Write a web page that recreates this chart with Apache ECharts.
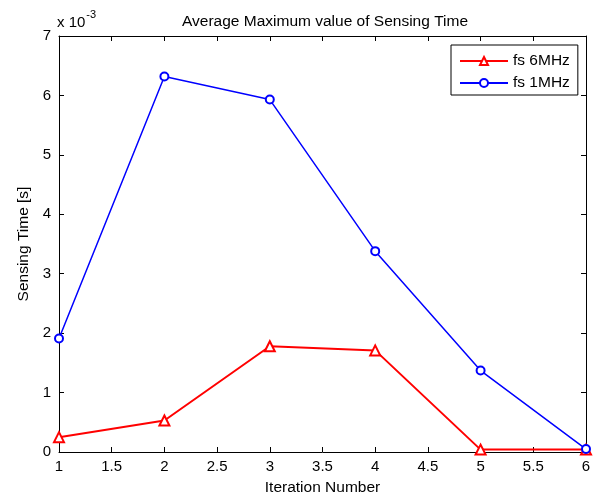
<!DOCTYPE html>
<html><head><meta charset="utf-8">
<script src="https://cdn.jsdelivr.net/npm/echarts@6/dist/echarts.min.js"></script>
<style>html,body{margin:0;padding:0;background:#fff}#c{width:597px;height:495px}</style>
</head><body><div id="c"></div>
<script>
// values in units of 1e-3 s
const iterations = [1, 2, 3, 4, 5, 6];
const fs6MHz = [0.25, 0.53, 1.78, 1.71, 0.04, 0.04];
const fs1MHz = [1.91, 6.32, 5.93, 3.38, 1.37, 0.05];
const seriesNames = ['fs 6MHz', 'fs 1MHz'];

const chart = echarts.init(document.getElementById('c'));
const font = 'Liberation Sans, Arial, sans-serif';
const axisCommon = {
  axisLine: {show: true, onZero: false, lineStyle: {color: '#000', width: 1}},
  axisTick: {show: true, inside: true, length: 5, lineStyle: {color: '#000'}},
  splitLine: {show: false}
};
const tickLabel = {color: '#000', fontFamily: font, fontSize: 15, margin: 7};
chart.setOption({
  animation: false,
  backgroundColor: '#fff',
  grid: {left: 59, right: 11, top: 36, bottom: 43, containLabel: false, outerBoundsMode: 'none'},
  title: {text: 'Average Maximum value of Sensing Time', left: 320, top: 9, textAlign: 'center',
    textStyle: {fontFamily: font, fontSize: 15.5, fontWeight: 'normal', color: '#000'}},
  legend: {
    orient: 'vertical', left: 451, top: 45,
    backgroundColor: '#fff', borderColor: '#000', borderWidth: 1, padding: [8, 8, 4, 8],
    itemWidth: 48, itemHeight: 10, itemGap: 6,
    textStyle: {fontFamily: font, fontSize: 15.5, color: '#000'},
    data: seriesNames
  },
  xAxis: [
    Object.assign({type: 'value', min: 1, max: 6, interval: 0.5, position: 'bottom',
      name: 'Iteration Number', nameLocation: 'middle', nameGap: 28,
      nameTextStyle: {fontFamily: font, fontSize: 15.5, color: '#000'},
      axisLabel: Object.assign({}, tickLabel, {margin: 7})}, axisCommon),
    Object.assign({type: 'value', min: 1, max: 6, interval: 0.5, position: 'top',
      axisLabel: {show: false}}, axisCommon)
  ],
  yAxis: [
    Object.assign({type: 'value', min: 0, max: 7, interval: 1, position: 'left',
      name: 'Sensing Time [s]', nameLocation: 'middle', nameGap: 25,
      nameTextStyle: {fontFamily: font, fontSize: 15.5, color: '#000'},
      axisLabel: Object.assign({}, tickLabel, {margin: 8})}, axisCommon),
    Object.assign({type: 'value', min: 0, max: 7, interval: 1, position: 'right',
      axisLabel: {show: false}}, axisCommon)
  ],
  graphic: [{
    type: 'text', left: 57, top: 9,
    style: {
      text: '{a|x 10}{b|-3}', fill: '#000',
      rich: {a: {fontFamily: font, fontSize: 15, fill: '#000', padding: [6, 0, 0, 0]},
             b: {fontFamily: font, fontSize: 11, fill: '#000', verticalAlign: 'top', padding: [0, 0, 6, 1]}}
    }
  }],
  series: [
    {name: seriesNames[0], type: 'line', data: iterations.map((x, i) => [x, fs6MHz[i]]),
      symbol: 'emptyTriangle', symbolSize: 10, showAllSymbol: true,
      lineStyle: {color: '#ff0000', width: 2}, itemStyle: {color: '#ff0000', borderWidth: 1.5}},
    {name: seriesNames[1], type: 'line', data: iterations.map((x, i) => [x, fs1MHz[i]]),
      symbol: 'emptyCircle', symbolSize: 8, showAllSymbol: true,
      lineStyle: {color: '#0000ff', width: 1.5}, itemStyle: {color: '#0000ff', borderWidth: 1.5}}
  ]
});
</script></body></html>
